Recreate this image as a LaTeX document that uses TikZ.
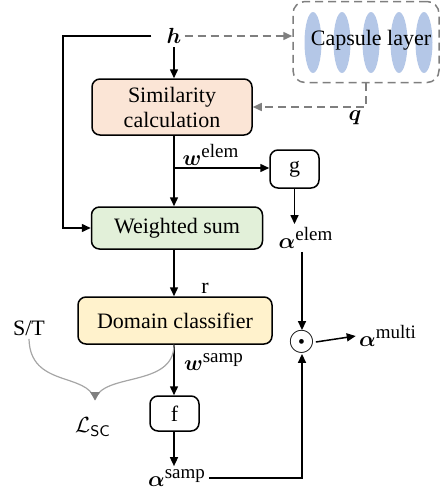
\documentclass[tikz,border=0pt]{standalone}
\usepackage{amsmath,amssymb}
\usepackage{fontspec}
\setmainfont{Liberation Serif}
\usepackage{tikz}
\usetikzlibrary{arrows.meta,calc}

\definecolor{simfill}{HTML}{FBE5D6}
\definecolor{sumfill}{HTML}{E2F0D9}
\definecolor{clsfill}{HTML}{FFF2CC}
\definecolor{capsblue}{HTML}{B4C7E7}
\definecolor{dashgray}{HTML}{7F7F7F}
\definecolor{curvegray}{HTML}{A6A6A6}

\newcommand{\supt}[1]{^{\text{\fontsize{9.5}{11}\selectfont #1}}}

\tikzset{
  box/.style={draw, rounded corners=4pt, line width=0.75pt, align=center,
    font=\fontsize{11}{12.5}\selectfont, inner sep=0pt},
  lbl/.style={inner sep=1.5pt, font=\fontsize{11}{13}\selectfont},
  arr/.style={line width=0.75pt, -{Triangle[length=4.5pt,width=4pt]}},
  plain/.style={line width=0.75pt},
  dasharr/.style={line width=0.75pt, dashgray, dash pattern=on 4pt off 2.5pt,
    -{Triangle[length=4.5pt,width=4pt]}},
  caps/.style={draw=dashgray, line width=0.75pt, dash pattern=on 4pt off 2.5pt,
    rounded corners=6pt, minimum width=73pt, minimum height=40.5pt, inner sep=0pt},
}

\begin{document}
\begin{tikzpicture}[x=0.5pt,y=-0.5pt]
\useasboundingbox (0,0) rectangle (441,499);

% capsule layer
\node[caps] (caps) at (366,42) {};
\foreach \cx in {313,342,371,399,424}
  \fill[capsblue] (\cx,42.5) ellipse (8.5 and 30.5);
\node[lbl] (capstext) at (371,40) {Capsule layer};

% main chain
\node[lbl] (h) at (174,36) {$\boldsymbol{h}$};
\node[box, fill=simfill, minimum width=80pt, minimum height=28pt] (sim) at (172,107)
    {Similarity\\calculation};
\node[box, fill=sumfill, minimum width=85.5pt, minimum height=21pt] (ws) at (177,228)
    {Weighted sum};
\node[box, fill=clsfill, minimum width=97pt, minimum height=23.5pt] (dc) at (175,320.5)
    {Domain classifier};
\node[box, minimum width=24.5pt, minimum height=19pt] (g) at (294.5,169) {g};
\node[box, minimum width=24.5pt, minimum height=17.5pt] (f) at (174.5,413.5) {f};

% labels
\node[lbl] (welem) at (211,155) {$\boldsymbol{w}\supt{elem}$};
\node[lbl] (aelem) at (306,238) {$\boldsymbol{\alpha}\supt{elem}$};
\node[lbl] (r) at (205,288) {r};
\node[lbl] (wsamp) at (214,362) {$\boldsymbol{w}\supt{samp}$};
\node[lbl] (asamp) at (177,478) {$\boldsymbol{\alpha}\supt{samp}$};
\node[lbl] (amulti) at (388,336) {$\boldsymbol{\alpha}\supt{multi}$};
\node[lbl] (q) at (355,118) {$\boldsymbol{q}$};
\node[lbl] (st) at (29,328) {S/T};
\node[lbl] (lsc) at (93,427) {$\mathcal{L}_{\mathsf{SC}}$};
\node[inner sep=0pt, font=\fontsize{17}{17}\selectfont] (dot) at (302,342) {$\odot$};

\coordinate (hl) at (63,36);
\coordinate (split) at (174,168);
\coordinate (tip) at (95,400);

% connectors
\draw[arr] (h) -- (h |- sim.north);
\draw[arr, shorten <=6pt] (h.west) -- (hl) |- (ws.west);
\draw[arr] (split |- sim.south) -- (split |- ws.north);
\draw[arr] (split) -- (split -| g.west);
\draw[arr] (g.south) -- (g.south |- aelem.north);
\draw[arr] (aelem.south -| dot.north) -- (dot.north);
\draw[arr] (dot.east) -- (amulti.west);
\draw[arr] (split |- ws.south) -- (split |- dc.north);
\draw[arr] (split |- dc.south) -- (split |- f.north);
\draw[arr] (split |- f.south) -- (split |- asamp.north);
\draw[arr] (asamp.east) -| (dot.south);

\draw[dasharr] (h.east) -- (h.east -| caps.west);
\draw[dasharr] (caps.south) |- (sim.east);

% loss
\draw[curvegray, line width=0.6pt] (st.south) .. controls (30,388) and (88,372) .. (tip);
\draw[curvegray, line width=0.6pt] (split |- dc.south) .. controls (174,388) and (102,372) .. (tip);
\fill[dashgray] (tip) -- ++(-5,-8) -- ++(10,0) -- cycle;

\end{tikzpicture}
\end{document}
